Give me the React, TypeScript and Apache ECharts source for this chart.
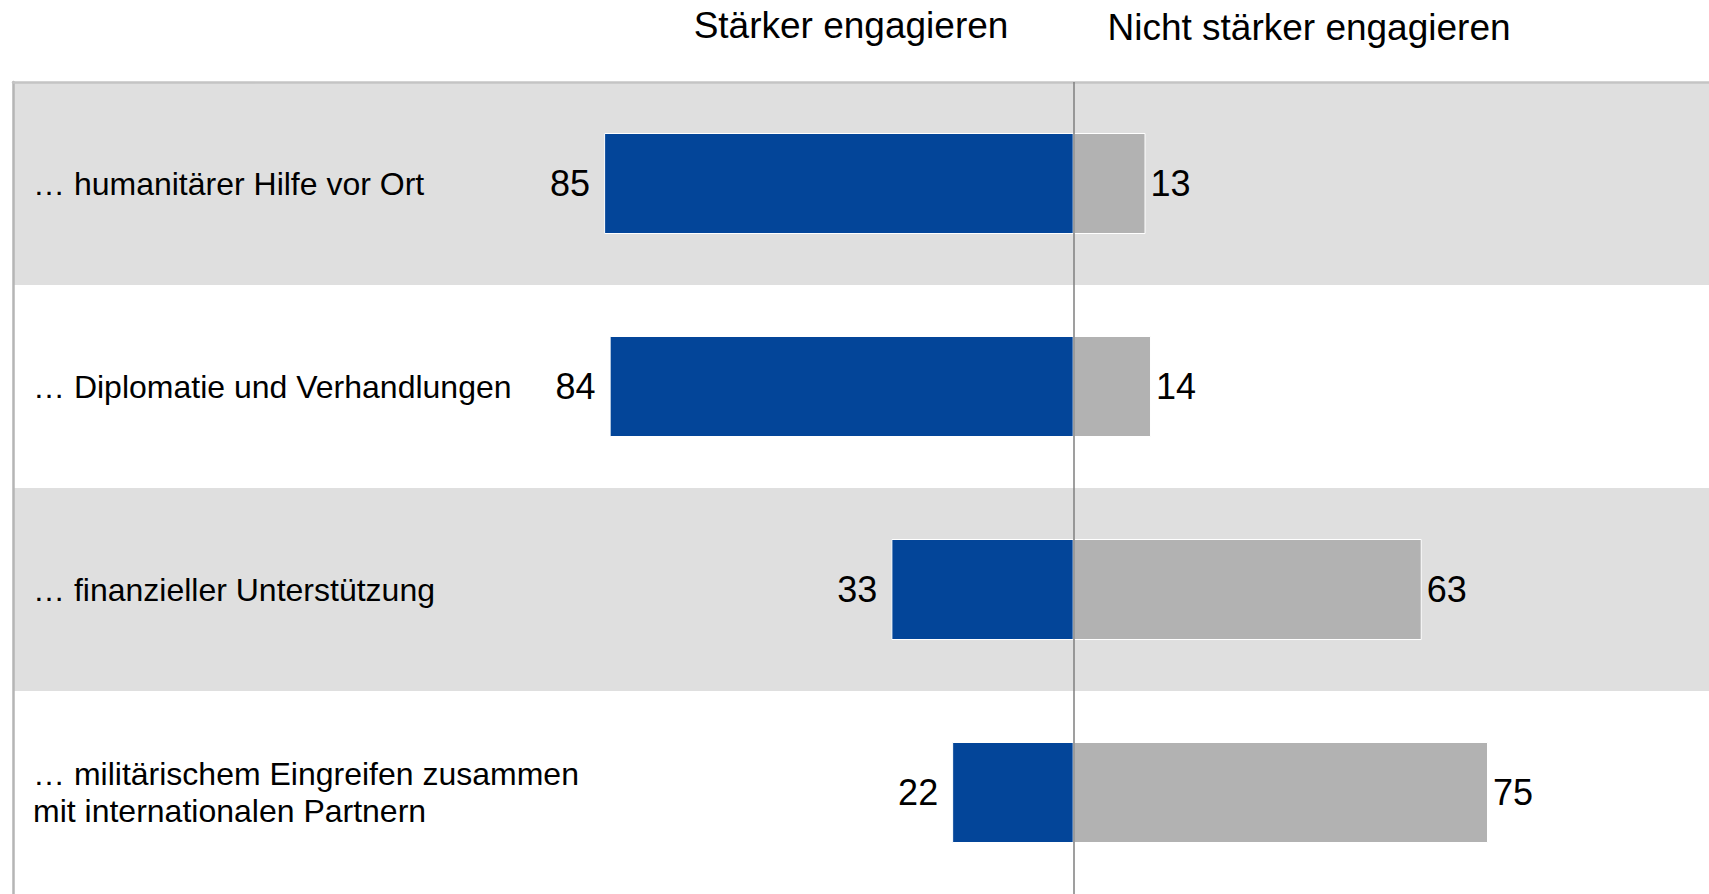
import React, { useEffect, useRef } from "react";
import * as echarts from "echarts";

const categories = [
  "… humanitärer Hilfe vor Ort",
  "… Diplomatie und Verhandlungen",
  "… finanzieller Unterstützung",
  "… militärischem Eingreifen zusammen\nmit internationalen Partnern",
];
const seriesNames = ["Stärker engagieren", "Nicht stärker engagieren"];
const strongerValues = [85, 84, 33, 22];
const notStrongerValues = [13, 14, 63, 75];

const FONT = "'Liberation Sans', Arial, Helvetica, sans-serif";

export default function App() {
  const ref = useRef<HTMLDivElement>(null);

  useEffect(() => {
    if (!ref.current) return;
    const chart = echarts.init(ref.current, undefined, { renderer: "svg" });
    const option: any = {
      animation: false,
      backgroundColor: "#ffffff",
      textStyle: { fontFamily: FONT },
      grid: { left: 13, right: 0, top: 82, height: 817, containLabel: false },
      graphic: [
        {
          type: "text",
          x: 851,
          y: 25,
          style: {
            text: seriesNames[0],
            fontFamily: FONT,
            fontSize: 37,
            fill: "#000",
            textAlign: "center",
            textVerticalAlign: "middle",
          },
        },
        {
          type: "text",
          x: 1309,
          y: 27,
          style: {
            text: seriesNames[1],
            fontFamily: FONT,
            fontSize: 37,
            fill: "#000",
            textAlign: "center",
            textVerticalAlign: "middle",
          },
        },
      ],
      xAxis: {
        type: "value",
        position: "top",
        min: -192,
        max: 115,
        axisLine: { show: true, lineStyle: { color: "#c4c4c4", width: 2.5 } },
        axisTick: { show: false },
        axisLabel: { show: false },
        splitLine: { show: false },
      },
      yAxis: {
        type: "category",
        inverse: true,
        data: categories,
        axisLine: { show: true, onZero: false, lineStyle: { color: "#b5b5b5", width: 2.5 } },
        axisTick: { show: false },
        axisLabel: {
          inside: true,
          margin: 20,
          color: "#000",
          fontFamily: FONT,
          fontSize: 32,
          lineHeight: 37,
          align: "left",
        },
        splitLine: { show: false },
        splitArea: { show: true, areaStyle: { color: ["#dfdfdf", "#ffffff"] } },
      },
      series: [
        {
          name: seriesNames[0],
          type: "bar",
          stack: "total",
          barWidth: 101,
          data: strongerValues.map((v) => -v),
          itemStyle: { color: "#034599", borderColor: "#ffffff", borderWidth: 1 },
          label: {
            show: true,
            position: "left",
            distance: 14,
            formatter: (p: any) => String(Math.abs(p.value)),
            color: "#000",
            fontFamily: FONT,
            fontSize: 36,
          },
          markLine: {
            silent: true,
            symbol: "none",
            label: { show: false },
            lineStyle: { color: "#7f7f7f", width: 1.5, type: "solid" },
            data: [{ xAxis: 0 }],
          },
          z: 2,
        },
        {
          name: seriesNames[1],
          type: "bar",
          stack: "total",
          barWidth: 101,
          data: notStrongerValues,
          itemStyle: { color: "#b2b2b2", borderColor: "#ffffff", borderWidth: 1 },
          label: {
            show: true,
            position: "right",
            distance: 5,
            color: "#000",
            fontFamily: FONT,
            fontSize: 36,
          },
          z: 2,
        },
      ],
    };
    chart.setOption(option);
    return () => chart.dispose();
  }, []);

  return (
    <div
      ref={ref}
      style={{ position: "fixed", left: 0, top: 0, width: 1709, height: 894 }}
    />
  );
}
